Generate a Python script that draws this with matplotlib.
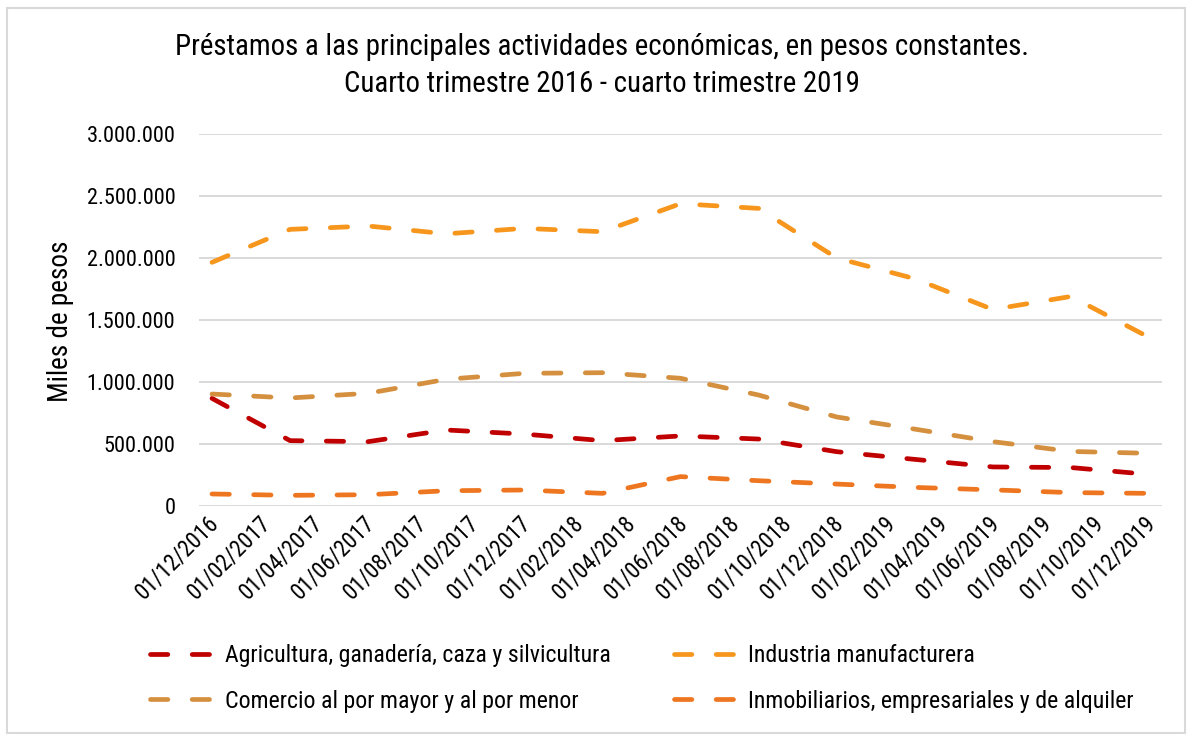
import matplotlib
matplotlib.use("Agg")
import matplotlib.pyplot as plt
from matplotlib.patches import Rectangle
from matplotlib.ticker import FuncFormatter
from matplotlib.transforms import ScaledTranslation

# ---------------- data ----------------
quarters = ["01/12/2016", "01/03/2017", "01/06/2017", "01/09/2017", "01/12/2017",
            "01/03/2018", "01/06/2018", "01/09/2018", "01/12/2018", "01/03/2019",
            "01/06/2019", "01/09/2019", "01/12/2019"]
agricultura = [868000, 527000, 519000, 613000, 580000, 527000, 565000,
               540000, 438000, 376000, 315000, 310000, 255000]
industria = [1965000, 2231000, 2258000, 2195000, 2239000, 2212000, 2438000,
             2400000, 2000000, 1833000, 1585000, 1690000, 1360000]
comercio = [903000, 871000, 909000, 1022000, 1070000, 1075000, 1030000,
            895000, 718000, 620000, 519000, 440000, 425000]
inmobiliarios = [97000, 86000, 91000, 123000, 129000, 102000, 237000,
                 204000, 177000, 150000, 130000, 108000, 102000]
tick_labels = ["01/12/2016", "01/02/2017", "01/04/2017", "01/06/2017", "01/08/2017",
               "01/10/2017", "01/12/2017", "01/02/2018", "01/04/2018", "01/06/2018",
               "01/08/2018", "01/10/2018", "01/12/2018", "01/02/2019", "01/04/2019",
               "01/06/2019", "01/08/2019", "01/10/2019", "01/12/2019"]
series_names = ["Agricultura, ganadería, caza y silvicultura",
                "Industria manufacturera",
                "Comercio al por mayor y al por menor",
                "Inmobiliarios, empresariales y de alquiler"]
title_lines = ["Préstamos a las principales actividades económicas, en pesos constantes.",
               "Cuarto trimestre 2016 - cuarto trimestre 2019"]
y_label = "Miles de pesos"

# ---------------- style ----------------
plt.rcParams["font.family"] = ["Roboto Condensed", "DejaVu Sans"]
plt.rcParams["lines.scale_dashes"] = False
colors = ["#C00000", "#F7961D", "#D4903E", "#EE7620"]
W, H = 1190, 735


def month_index(s):
    d, m, y = s.split("/")
    return (int(y) - 2016) * 12 + int(m) - 12


x_q = [month_index(q) for q in quarters]
x_t = [month_index(t) for t in tick_labels]

fig = plt.figure(figsize=(W / 100, H / 100), dpi=100)
ax = fig.add_axes([199 / W, 1 - 506 / H, (1162 - 199) / W, (506 - 134) / H])

lines = []
for vals, c, name in zip([agricultura, industria, comercio, inmobiliarios], colors, series_names):
    ln, = ax.plot(x_q, vals, color=c, lw=3.4, dashes=(12.5, 17.5),
                  dash_capstyle="round", solid_capstyle="round", label=name)
    lines.append(ln)

ax.set_xlim(-0.5, 36.5)
ax.set_ylim(0, 3000000)
ax.set_yticks(range(0, 3000001, 500000))
ax.yaxis.set_major_formatter(FuncFormatter(lambda v, p: f"{int(v):,}".replace(",", ".")))
ax.set_xticks(x_t)
ax.set_xticklabels(tick_labels, rotation=45, ha="right", va="top", rotation_mode="anchor")
ax.tick_params(axis="both", length=0, labelsize=16, colors="#000000")
ax.tick_params(axis="x", labelsize=16.5)
ax.tick_params(axis="y", pad=17)
ax.tick_params(axis="x", pad=4)
shift = ScaledTranslation(-5 / 100, 0, fig.dpi_scale_trans)
for lbl in ax.get_xticklabels():
    lbl.set_transform(lbl.get_transform() + shift)
ax.yaxis.grid(True, color="#D9D9D9", lw=1.4)
ax.set_axisbelow(True)
for s in ax.spines.values():
    s.set_visible(False)

fig.text(602 / W, 1 - 47 / H, title_lines[0], ha="center", va="center", fontsize=20.8)
fig.text(602 / W, 1 - 84 / H, title_lines[1], ha="center", va="center", fontsize=20.8)
fig.text(60 / W, 1 - 321 / H, y_label, rotation=90, ha="center", va="center", fontsize=19.5)

order = [0, 2, 1, 3]
fig.legend([lines[i] for i in order], [series_names[i] for i in order],
           ncol=2, loc="upper left", bbox_to_anchor=(150 / W, 1 - 644 / H),
           frameon=False, fontsize=17.2, handlelength=2.5, handletextpad=0.62,
           columnspacing=2.65, labelspacing=0.95, borderpad=0, borderaxespad=0)

fig.patches.append(Rectangle((7 / W, 2 / H), (1185 - 7) / W, (727 - 2) / H,
                             transform=fig.transFigure, fill=False,
                             edgecolor="#D9D9D9", lw=1.5))

fig.savefig("out.png", dpi=100)
